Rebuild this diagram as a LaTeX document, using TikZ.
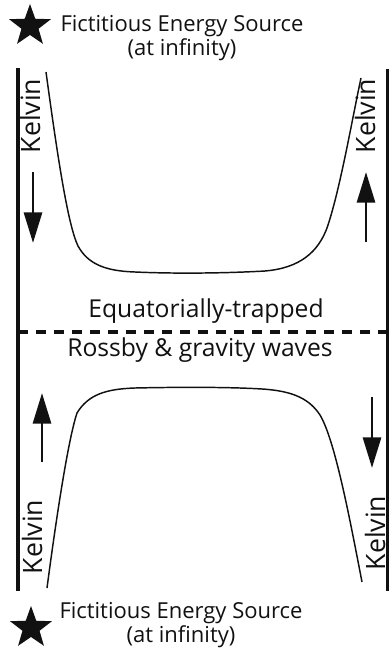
\documentclass[tikz,border=0pt]{standalone}
\usepackage{fontspec}
\setmainfont{Open Sans}
\usepackage{tikz}
\usetikzlibrary{arrows.meta,shapes.geometric}
\definecolor{WaveInk}{HTML}{111111}

\begin{document}
\begin{tikzpicture}[x=0.75pt,y=-0.75pt,
  wall/.style={line width=2.8pt, WaveInk},
  wave/.style={line width=1.1pt, WaveInk},
  flow/.style={line width=2.2pt, WaveInk, -{Triangle[length=23pt,width=13.5pt]}},
  txt/.style={font=\fontsize{18.5}{19}\selectfont, align=center, inner sep=0pt, text=WaveInk},
  srctxt/.style={txt, font=\fontsize{16.5}{18}\selectfont},
  kel/.style={font=\fontsize{20}{20}\selectfont, rotate=90, inner sep=0pt, text=WaveInk},
  source/.style={star, star points=5, star point ratio=2.45, fill=WaveInk,
    minimum size=33pt, inner sep=0pt}]
  \useasboundingbox (0,0) rectangle (391,656);
  % side walls
  \draw[wall] (18,68) -- (18,591);
  \draw[wall] (387.5,69) -- (387.5,591);
  % equator
  \draw[wall, line width=2.4pt, dash pattern=on 7.5pt off 6pt] (18,332) -- (388,332);
  \node[txt] (eqtop) at (206,311) {Equatorially-trapped};
  \node[txt] (eqbot) at (200,350) {Rossby \& gravity waves};
  % energy sources
  \node[source] (startop) at (30,26) {};
  \node[srctxt] (srctop) at (182,38.5) {Fictitious Energy Source\\(at infinity)};
  \node[source] (starbot) at (31,628) {};
  \node[srctxt] (srcbot) at (181,625) {Fictitious Energy Source\\(at infinity)};
  % northern profile
  \draw[wave] (46,72) .. controls (58,160) and (68,225) .. (78,246)
    .. controls (88,264) and (105,271) .. (135,272)
    .. controls (180,274) and (230,273) .. (265,271)
    .. controls (300,268) and (318,252) .. (327,228)
    .. controls (340,190) and (352,120) .. (361,78);
  % southern profile
  \draw[wave] (47,588) .. controls (56,520) and (68,440) .. (77,413)
    .. controls (88,395) and (105,389) .. (135,388)
    .. controls (180,387) and (230,387) .. (262,389)
    .. controls (295,391) and (310,400) .. (320,415)
    .. controls (335,440) and (350,520) .. (362,582);
  % kelvin waves along the walls
  \foreach \x/\y/\nm in {30/116/kelnw,365/116/kelne,32/537/kelsw,375/533/kelse}{
    \node[kel] (\nm) at (\x,\y) {Kelvin};
  }
  \coordinate (nwa) at (33,172);  \coordinate (nwb) at (33,243);
  \coordinate (nea) at (366,242); \coordinate (neb) at (366,172);
  \coordinate (swa) at (42,462);  \coordinate (swb) at (42,393);
  \coordinate (sea) at (372,397); \coordinate (seb) at (372,468);
  \foreach \a/\b in {nwa/nwb,nea/neb,swa/swb,sea/seb}{
    \draw[flow] (\a) -- (\b);
  }
\end{tikzpicture}
\end{document}
